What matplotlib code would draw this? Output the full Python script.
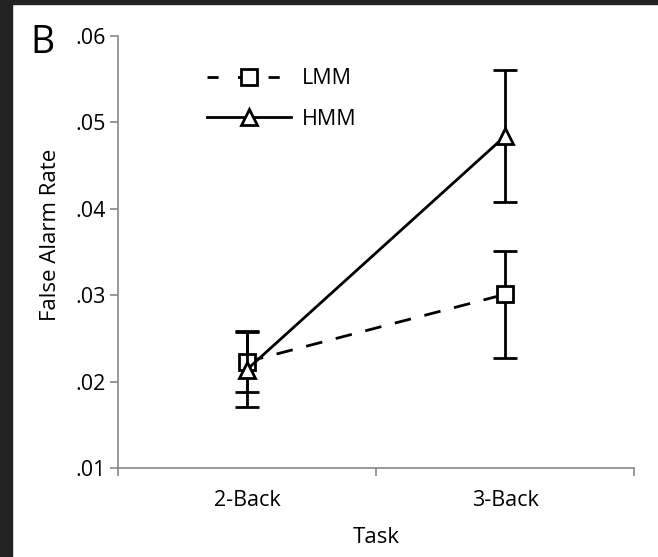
import matplotlib
matplotlib.use('Agg')
import matplotlib.pyplot as plt
from matplotlib.patches import Rectangle
from matplotlib.lines import Line2D

plt.rcParams['font.family'] = ['Open Sans', 'DejaVu Sans']

# data
tasks = ['2-Back', '3-Back']
lmm_mean = [0.0223, 0.0301]
lmm_err_lo = [0.0035, 0.0074]
lmm_err_hi = [0.0035, 0.0050]
hmm_mean = [0.0214, 0.0484]
hmm_err_lo = [0.0043, 0.0076]
hmm_err_hi = [0.0043, 0.0077]
yticks = [0.01, 0.02, 0.03, 0.04, 0.05, 0.06]
ytick_labels = ['.01', '.02', '.03', '.04', '.05', '.06']

fig = plt.figure(figsize=(6.58, 5.57), dpi=100)
fig.patch.set_facecolor('white')
# dark frame strips at left and top of the screenshot
fig.patches.append(Rectangle((0, 0), 12 / 658, 1, transform=fig.transFigure,
                             color='#222222', zorder=0))
fig.patches.append(Rectangle((0, 1 - 4 / 557), 1, 4 / 557, transform=fig.transFigure,
                             color='#222222', zorder=0))

ax = fig.add_axes([118 / 658, 1 - 468 / 557, 516 / 658, 432 / 557])

x = [0.5, 1.5]
ax.errorbar(x, lmm_mean, yerr=[lmm_err_lo, lmm_err_hi], color='black', lw=2,
            dashes=(6, 5), marker='s', ms=12, mfc='white', mec='black', mew=2,
            capsize=8.5, capthick=2, elinewidth=2, zorder=3)
ax.errorbar(x, hmm_mean, yerr=[hmm_err_lo, hmm_err_hi], color='black', lw=2,
            marker='^', ms=12, mfc='white', mec='black', mew=2,
            capsize=8.5, capthick=2, elinewidth=2, zorder=4)

ax.set_xlim(0, 2)
ax.set_ylim(0.01, 0.06)
ax.set_yticks(yticks)
ax.set_yticklabels(ytick_labels, fontsize=15.5)
ax.set_xticks([0, 1, 2])
ax.set_xticklabels(['', '', ''])
ax.set_xticks(x, minor=True)
ax.set_xticklabels(tasks, minor=True, fontsize=15.5)
ax.tick_params(axis='x', which='minor', length=0, pad=16)
ax.tick_params(axis='both', which='major', length=6, width=1.2, color='#888888')
ax.tick_params(axis='y', pad=3)

for s in ['top', 'right']:
    ax.spines[s].set_visible(False)
for s in ['left', 'bottom']:
    ax.spines[s].set_color('#888888')
    ax.spines[s].set_linewidth(1.2)

ax.set_xlabel('Task', fontsize=16)
ax.xaxis.set_label_coords(0.5, -0.137)
ax.set_ylabel('False Alarm Rate', fontsize=16)
ax.yaxis.set_label_coords(-0.11, 0.54)

handles = [
    Line2D([], [], color='black', lw=2, dashes=(4, 7), marker='s', ms=12,
           mfc='white', mec='black', mew=2),
    Line2D([], [], color='black', lw=2, marker='^', ms=12,
           mfc='white', mec='black', mew=2),
]
ax.legend(handles, ['LMM', 'HMM'], loc='upper left', bbox_to_anchor=(0.151, 0.95),
          frameon=False, fontsize=15.5, handlelength=3.9, labelspacing=0.9,
          borderpad=0, handletextpad=0.5)

fig.text(30 / 658, 1 - 43 / 557, 'B', fontsize=27, va='center', ha='left')

fig.savefig('out.png', dpi=100, facecolor='white')
